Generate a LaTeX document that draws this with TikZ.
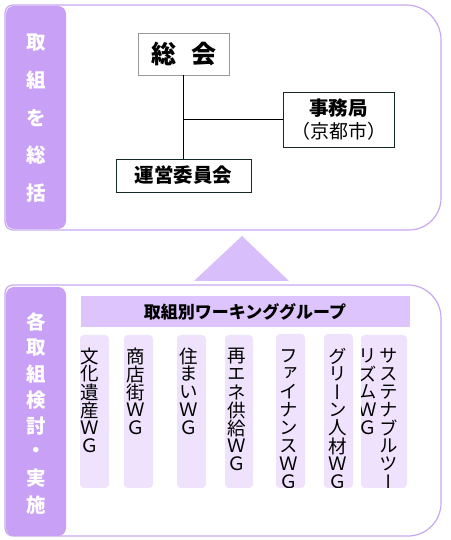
\documentclass[tikz,border=0pt]{standalone}
\usepackage{fontspec}
\setmainfont{Noto Sans CJK JP}
\newfontfamily\jpv[RawFeature=+vert]{Noto Sans CJK JP}
\definecolor{barpurple}{RGB}{200,160,245}
\definecolor{hdrpurple}{RGB}{222,196,252}
\definecolor{colfill}{RGB}{238,226,253}
\definecolor{tripurple}{RGB}{216,190,250}
\definecolor{panelline}{RGB}{200,168,240}
\definecolor{boxline}{RGB}{20,40,40}
\begin{document}
\begin{tikzpicture}[x=1pt,y=1pt,
  panel/.style={draw=panelline, line width=1.2pt, fill=white},
  sidebar/.style={fill=barpurple, rounded corners=8pt},
  sidetext/.style={inner sep=0pt, text=white, font=\fontsize{19.5}{19.5}\selectfont\bfseries},
  orgbox/.style={draw=boxline, line width=0.9pt, fill=white, inner sep=0pt, align=center},
  wgcol/.style={fill=colfill, rounded corners=4pt},
  vch/.style={inner sep=0pt, font=\jpv\fontsize{18.5}{18.5}\selectfont},
  link/.style={draw=black, line width=0.9pt}]
\useasboundingbox (0,0) rectangle (450,540);
% ---------- top panel ----------
\path[panel] (5,318) -- (5,527) arc(180:90:8) -- (406,535) arc(90:0:35)
  -- (441,342) arc(0:-90:32) -- (13,310) arc(270:180:8) -- cycle;
\fill[sidebar] (6,311) rectangle (66,534);
\foreach \c [count=\i] in {取,組,を,総,括}
  \node[sidetext] (ta\i) at (36,{497-37.5*(\i-1)}) {\c};
% org chart
\node[orgbox, draw=gray!80, minimum width=91pt, minimum height=42pt,
  font=\fontsize{25}{25}\selectfont\bfseries] (soukai) at (183.5,486) {総\hspace{0.6em}会};
\node[orgbox, minimum width=111pt, minimum height=55pt] (jimu) at (338.5,420.5)
  {{\fontsize{19.5}{19.5}\selectfont\bfseries 事務局}\\[4pt]{\fontsize{19}{19}\selectfont （京都市）}};
\node[orgbox, minimum width=135pt, minimum height=33pt,
  font=\fontsize{19.5}{19.5}\selectfont\bfseries] (unei) at (183.5,364.5) {運営委員会};
\coordinate (junc) at (soukai.south |- jimu.west);
\draw[link] (soukai.south) -- (unei.north);
\draw[link] (junc) -- (jimu.west);
% ---------- triangle ----------
\fill[tripurple] (194,259) -- (242,304) -- (289,259) -- cycle;
% ---------- bottom panel ----------
\path[panel] (5,12) -- (5,247) arc(180:90:8) -- (408,255) arc(90:0:33)
  -- (441,37) arc(0:-90:33) -- (13,4) arc(270:180:8) -- cycle;
\fill[sidebar] (6,4) rectangle (66,253);
\foreach \c [count=\i] in {各,取,組,検,討,・,実,施}
  \node[sidetext] (ba\i) at (36,{218-26.1*(\i-1)}) {\c};
\fill[hdrpurple] (81,213) rectangle (410,244);
\node[inner sep=0pt, font=\fontsize{17}{17}\selectfont\bfseries] (hdr) at (245,228.5) {取組別ワーキンググループ};
% columns
\fill[wgcol] (80,52) rectangle (109,205);
\fill[wgcol] (124,52) rectangle (153,205);
\fill[wgcol] (177,52) rectangle (206,205);
\fill[wgcol] (225,52) rectangle (253,205);
\fill[wgcol] (276,52) rectangle (305,206);
\fill[wgcol] (324,52) rectangle (353,206);
\fill[wgcol] (361,52) rectangle (407,205);
\foreach \c [count=\i] in {文,化,遺,産,Ｗ,Ｇ}
  \node[vch] (wa\i) at (90,{184-18*(\i-1)}) {\c};
\foreach \c [count=\i] in {商,店,街,Ｗ,Ｇ}
  \node[vch] (wb\i) at (135.5,{184-18*(\i-1)}) {\c};
\foreach \c [count=\i] in {住,ま,い,Ｗ,Ｇ}
  \node[vch] (wc\i) at (188.5,{184-18*(\i-1)}) {\c};
\foreach \c [count=\i] in {再,エ,ネ,供,給,Ｗ,Ｇ}
  \node[vch] (wd\i) at (237,{184-18*(\i-1)}) {\c};
\begin{scope}
\clip (276,52) rectangle (305,206);
\foreach \c [count=\i] in {フ,ァ,イ,ナ,ン,ス,Ｗ,Ｇ}
  \node[vch] (we\i) at (289,{184-18*(\i-1)}) {\c};
\end{scope}
\begin{scope}
\clip (324,52) rectangle (353,206);
\foreach \c [count=\i] in {グ,リ,ー,ン,人,材,Ｗ,Ｇ}
  \node[vch] (wf\i) at (337.5,{184-18*(\i-1)}) {\c};
\end{scope}
\begin{scope}
\clip (361,52) rectangle (407,205);
\foreach \c [count=\i] in {サ,ス,テ,ナ,ブ,ル,ツ,ー}
  \node[vch] (wg\i) at (389,{184-18*(\i-1)}) {\c};
\foreach \c [count=\i] in {リ,ズ,ム,Ｗ,Ｇ}
  \node[vch] (wh\i) at (367.5,{184-18*(\i-1)}) {\c};
\end{scope}
\end{tikzpicture}
\end{document}
